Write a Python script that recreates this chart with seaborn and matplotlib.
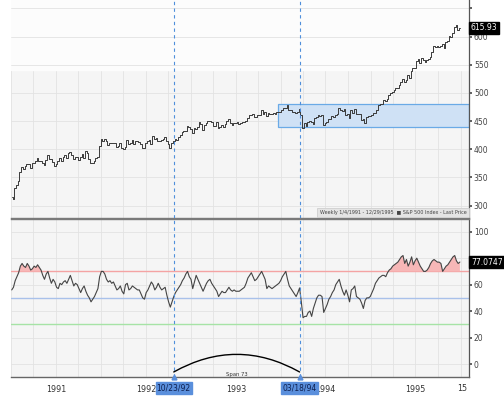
import numpy as np
import pandas as pd
import matplotlib
matplotlib.use("Agg")
import matplotlib.pyplot as plt
import matplotlib.dates as mdates
from matplotlib.patches import Rectangle
import seaborn as sns

# ---- data (weekly closes, S&P 500) ----
price_1991 = [315, 312, 332, 336, 343, 359, 369, 365, 370, 374, 373, 367, 375, 375, 380, 384, 379, 380, 376, 372,
              381, 389, 383, 382, 377, 371, 374, 380, 384, 380, 387, 389, 385, 394, 395, 389, 383, 387, 386, 381,
              387, 392, 385, 397, 393, 382, 376, 375, 379, 385, 387, 406]
price_1992 = [419, 415, 418, 415, 408, 412, 412, 411, 412, 404, 405, 411, 403, 401, 404, 416, 409, 412, 416, 410,
              415, 415, 413, 410, 403, 403, 411, 414, 416, 410, 424, 419, 420, 414, 414, 417, 419, 422, 414, 410,
              402, 411, 414, 418, 417, 422, 426, 430, 432, 433, 441, 440]
price_1993 = [436, 429, 437, 436, 439, 448, 445, 434, 443, 446, 450, 451, 448, 442, 441, 448, 437, 440, 443, 439,
              445, 450, 453, 447, 443, 447, 446, 448, 445, 447, 448, 448, 450, 456, 460, 461, 462, 458, 457, 461,
              460, 470, 463, 467, 459, 465, 463, 463, 464, 463, 466, 467, 466]
price_1994 = [469, 474, 474, 479, 469, 470, 467, 467, 464, 466, 471, 460, 438, 447, 441, 448, 451, 448, 444, 455,
              457, 460, 459, 461, 443, 446, 449, 454, 453, 459, 457, 461, 463, 473, 470, 468, 471, 460, 462, 455,
              469, 465, 472, 463, 463, 463, 452, 453, 446, 458, 459, 459]
price_1995 = [460, 465, 464, 470, 478, 481, 481, 488, 485, 490, 496, 500, 501, 506, 509, 508, 514, 520, 525, 519,
              523, 532, 527, 539, 544, 545, 556, 560, 553, 562, 558, 555, 559, 560, 563, 572, 583, 581, 584, 582,
              584, 587, 579, 591, 592, 601, 599, 606, 617, 620, 611, 615.93]

rsi_1991 = [56, 58, 63, 66, 69, 74, 76, 74, 73, 76, 74, 71, 72, 74, 73, 75, 73, 71, 67, 64,
            68, 70, 65, 61, 64, 62, 58, 57, 61, 60, 62, 63, 61, 64, 67, 63, 59, 61, 60, 57,
            54, 57, 59, 55, 52, 50, 47, 49, 51, 54, 57, 66]
rsi_1992 = [70, 70, 68, 64, 62, 63, 61, 62, 59, 56, 57, 59, 55, 53, 60, 61, 56, 57, 59, 58,
            57, 56, 56, 53, 50, 49, 54, 56, 59, 62, 60, 56, 58, 61, 58, 56, 57, 58, 52, 47,
            43, 47, 51, 54, 56, 58, 60, 63, 65, 68, 70, 66]
rsi_1993 = [64, 57, 62, 67, 64, 61, 58, 55, 58, 61, 63, 64, 61, 59, 57, 55, 51, 53, 55, 54,
            54, 56, 58, 56, 55, 56, 55, 55, 55, 56, 57, 58, 61, 65, 67, 69, 66, 63, 64, 66,
            68, 70, 67, 64, 57, 59, 58, 57, 58, 59, 60, 61, 63]
rsi_1994 = [66, 68, 70, 64, 59, 57, 55, 53, 51, 54, 57.5, 47, 35, 36, 36, 39, 40, 36, 42, 46,
            50, 52, 52, 51, 39, 42, 45, 49, 51, 54, 56, 60, 62, 64, 59, 55, 52, 56, 52, 47,
            56, 57, 59, 51, 50, 49, 46, 42, 48, 50, 50, 51]
rsi_1995 = [54, 57, 61, 63, 65, 66, 67, 67, 66, 69, 71, 72, 74, 75, 76, 77, 79, 81, 82, 76,
            79, 74, 77, 81, 75, 78, 80, 77, 74, 72, 70, 70, 71, 73, 76, 78, 79, 78, 77, 77,
            76, 70, 72, 74, 75, 77, 79, 81, 82, 78, 76, 77.0747]

price_ticks = [300, 350, 400, 450, 500, 550, 600, 650]
price_tick_labels = ["300", "350", "400", "450", "500", "550", "600", ""]
rsi_ticks = [0, 20, 40, 60, 80, 100]
rsi_tick_labels = ["0", "20", "40", "60", "", "100"]   # 80 is hidden behind the last-value tag
rsi_levels = [70, 50, 30]
rsi_level_colors = ["#f4a3a3", "#a9c1ea", "#a6e3a6"]
year_labels = ["1991", "1992", "1993", "1994", "1995"]
event_dates = ["1992-10-23", "1994-03-18"]
event_labels = ["10/23/92", "03/18/94"]
range_box_start = "1993-12-20"
range_box_low, range_box_high = 440, 480
legend_text = "Weekly 1/4/1991 - 12/29/1995  \u25A0 S&P 500 Index - Last Price"

price = price_1991 + price_1992 + price_1993 + price_1994 + price_1995
rsi = rsi_1991 + rsi_1992 + rsi_1993 + rsi_1994 + rsi_1995
dates = pd.date_range("1991-01-04", periods=len(price), freq="W-FRI")
df = pd.DataFrame({"date": dates, "price": price, "rsi": rsi})

sns.set_style("white")
plt.rcParams["font.family"] = ["DejaVu Sans"]

W, H = 504, 398
fig = plt.figure(figsize=(W / 100, H / 100), dpi=100)
fig.patch.set_facecolor("white")
ax1 = fig.add_axes([11 / W, 1 - 218 / H, 458 / W, 218 / H])
ax2 = fig.add_axes([11 / W, 1 - 377 / H, 458 / W, 158 / H])

xmin, xmax = pd.Timestamp("1991-01-03"), pd.Timestamp("1996-02-04")
quarters = pd.date_range("1991-01-01", "1996-01-01", freq="QS")
mid_years = [pd.Timestamp(f"{y}-07-02") for y in year_labels]

for ax in (ax1, ax2):
    ax.set_facecolor("#f5f5f5")
    ax.set_xlim(xmin, xmax)
    ax.set_xticks(quarters, minor=True)
    ax.grid(False)
    for q in quarters:
        ax.axvline(q, color="#e2e2e2", lw=0.6, zorder=0)
    for s in ("left", "top"):
        ax.spines[s].set_visible(False)
    ax.spines["right"].set_color("#555555")
    ax.spines["right"].set_linewidth(0.9)
    ax.yaxis.tick_right()
    ax.tick_params(axis="y", which="major", labelsize=5.5, colors="#555555", length=2, width=1.3, pad=1.5,
                   labelcolor="#444444")

# ---- top panel: price ----
ax1.axhspan(540, 700, color="#fcfcfc", zorder=0)
ax1.set_ylim(278, 665)
ax1.set_yticks(price_ticks)
ax1.set_yticklabels(price_tick_labels)
for t in price_ticks:
    ax1.axhline(t, color="#e2e2e2", lw=0.6, zorder=0)
x0 = mdates.date2num(pd.Timestamp(range_box_start))
x1 = mdates.date2num(xmax)
ax1.add_patch(Rectangle((x0, range_box_low), x1 - x0, range_box_high - range_box_low,
                        facecolor="#cfe1f5", edgecolor="#6aaae6", lw=0.9, zorder=1))
sns.lineplot(data=df, x="date", y="price", ax=ax1, color="#3a3a3a", lw=0.7,
             drawstyle="steps-mid", zorder=3)
ax1.set_xlabel("")
ax1.set_ylabel("")
ax1.set_xticks([])
ax1.tick_params(axis="x", which="both", length=0)
ax1.spines["bottom"].set_color("#7a7a7a")
ax1.spines["bottom"].set_linewidth(1.0)
ax1.text(1.004, price[-1], f"{price[-1]:.2f}", transform=ax1.get_yaxis_transform(),
         fontsize=5.5, color="white", va="center", ha="left",
         bbox=dict(boxstyle="square,pad=0.2", facecolor="black", edgecolor="black"), zorder=10, clip_on=False)
ax1.text(0.674, 0.014, legend_text, transform=ax1.transAxes, fontsize=3.5, color="#444444",
         ha="left", va="bottom",
         bbox=dict(boxstyle="square,pad=0.5", facecolor="#e4e4e4", edgecolor="#cfcfcf", lw=0.6), zorder=6)

# ---- bottom panel: RSI ----
ax2.set_ylim(-9.8, 109.6)
ax2.set_yticks(rsi_ticks)
ax2.set_yticklabels(rsi_tick_labels)
for t in rsi_ticks:
    ax2.axhline(t, color="#e2e2e2", lw=0.6, zorder=0)
for lvl, c in zip(rsi_levels, rsi_level_colors):
    ax2.axhline(lvl, color=c, lw=1.0, zorder=1)
ax2.fill_between(df["date"], df["rsi"], 70, where=df["rsi"] > 70, interpolate=True,
                 color="#f7b7b7", lw=0, zorder=2)
sns.lineplot(data=df, x="date", y="rsi", ax=ax2, color="#444444", lw=0.8, zorder=3)
ax2.set_xlabel("")
ax2.set_ylabel("")
ax2.spines["top"].set_color("#7a7a7a")
ax2.spines["top"].set_linewidth(1.0)
ax2.spines["top"].set_visible(True)
ax2.spines["bottom"].set_color("#666666")
ax2.spines["bottom"].set_linewidth(1.0)
ax2.set_xticks(mid_years)
ax2.set_xticklabels(year_labels)
ax2.tick_params(axis="x", which="major", length=0, labelsize=5.8, labelcolor="#333333", pad=6)
ax2.tick_params(axis="x", which="minor", length=2, width=0.6, color="#777777")
ax2.text(0.996, -0.07, "15", transform=ax2.transAxes, fontsize=5.8, color="#333333",
         ha="right", va="center", clip_on=False)
ax2.text(1.004, rsi[-1], f"{rsi[-1]:.4f}", transform=ax2.get_yaxis_transform(),
         fontsize=5.5, color="white", va="center", ha="left",
         bbox=dict(boxstyle="square,pad=0.2", facecolor="black", edgecolor="black"), zorder=10, clip_on=False)

# ---- event markers ----
ev = [pd.Timestamp(d) for d in event_dates]
for ax in (ax1, ax2):
    for d in ev:
        ax.axvline(d, color="#4f8fdb", lw=0.8, ls=(0, (3, 3)), zorder=4)
for d, lab in zip(ev, event_labels):
    ax2.text(d, -0.07, lab, transform=ax2.get_xaxis_transform(), fontsize=5.5, color="#0d1f4f",
             ha="center", va="center", clip_on=False,
             bbox=dict(boxstyle="square,pad=0.15", facecolor="#5a8fdc", edgecolor="#5a8fdc"), zorder=8)
    ax2.plot([d], [0.0], transform=ax2.get_xaxis_transform(), marker="^", ms=3.5,
             color="#5a8fdc", clip_on=False, zorder=9)

span_weeks = (ev[1] - ev[0]).days // 7
ax2.annotate("", xy=(ev[1], -6), xytext=(ev[0], -6),
             arrowprops=dict(arrowstyle="-", connectionstyle="arc3,rad=-0.28", color="black", lw=1.0,
                             shrinkA=0, shrinkB=0), zorder=6)
ax2.text(ev[0] + (ev[1] - ev[0]) / 2, -8.0, f"Span {span_weeks}", fontsize=3.8, color="#333333",
         ha="center", va="center", zorder=6)

fig.savefig("out.png", dpi=100, facecolor="white")
